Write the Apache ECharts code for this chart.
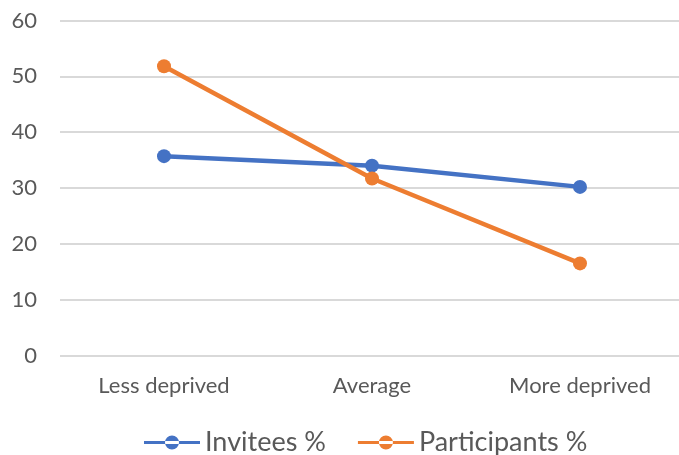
<!DOCTYPE html>
<html>
<head>
<meta charset="utf-8">
<script src="https://cdn.jsdelivr.net/npm/echarts@6/dist/echarts.min.js"></script>
<style>
  html, body { margin: 0; padding: 0; background: #fff; }
  #chart { width: 679px; height: 455px; }
</style>
</head>
<body>
<div id="chart"></div>
<script>
// Deprivation groups along the x axis
const categories = ['Less deprived', 'Average', 'More deprived'];
// Share of each group, in percent
const invitees = [35.7, 34.0, 30.2];
const participants = [51.8, 31.7, 16.5];
// Value axis range and step
const yMin = 0;
const yMax = 60;
const yStep = 10;

const FONT = 'Lato, "Open Sans", sans-serif';
const TEXT = '#595959';
// Legend key: a short line with a dot in the middle
const KEY_ICON = 'path://M0,5.5 L56,5.5 L56,8.5 L0,8.5 Z M21,7 A7,7 0 1,0 35,7 A7,7 0 1,0 21,7 Z';

const chart = echarts.init(document.getElementById('chart'), null, { renderer: 'canvas' });

function lineSeries(name, values, color) {
  return {
    name: name,
    type: 'line',
    data: values,
    symbol: 'circle',
    symbolSize: 14,
    lineStyle: { color: color, width: 4.5 },
    itemStyle: { color: color },
    emphasis: { disabled: true },
    animation: false
  };
}

chart.setOption({
  backgroundColor: '#ffffff',
  textStyle: { fontFamily: FONT },
  grid: { left: 60, top: 20.5, width: 624, height: 335, outerBoundsMode: 'none', containLabel: false },
  legend: {
    top: 424,
    left: 139,
    itemWidth: 56,
    itemHeight: 14,
    itemGap: 32,
    icon: KEY_ICON,
    textStyle: { fontFamily: FONT, fontSize: 27, color: TEXT },
    data: [
      { name: 'Invitees %' },
      { name: 'Participants %' }
    ]
  },
  xAxis: {
    type: 'category',
    data: categories,
    boundaryGap: true,
    axisLine: { show: false },
    axisTick: { show: false },
    axisLabel: { fontFamily: FONT, fontSize: 22, color: TEXT, margin: 19 }
  },
  yAxis: {
    type: 'value',
    min: yMin,
    max: yMax,
    interval: yStep,
    axisLine: { show: false },
    axisTick: { show: false },
    splitLine: { lineStyle: { color: '#d9d9d9', width: 2 } },
    axisLabel: { fontFamily: FONT, fontSize: 22, color: TEXT, margin: 23 }
  },
  series: [
    lineSeries('Invitees %', invitees, '#4472C4'),
    lineSeries('Participants %', participants, '#ED7D31')
  ]
});
</script>
</body>
</html>
